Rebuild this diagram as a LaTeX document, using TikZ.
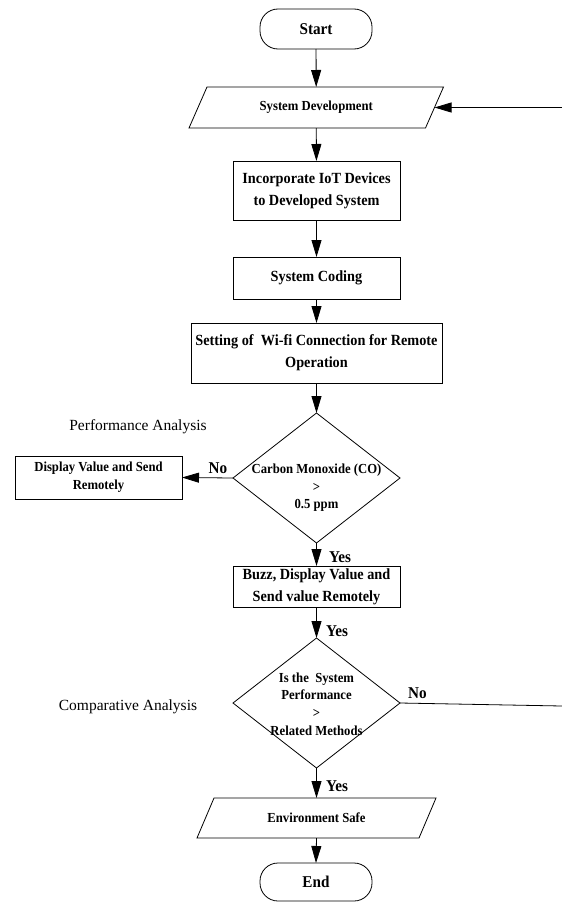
\documentclass[tikz,border=0pt]{standalone}
\usepackage{fontspec}
\setmainfont{Liberation Serif}
\newfontfamily\condfont{Liberation Serif}[FakeStretch=0.92]
\usetikzlibrary{arrows.meta,shapes.geometric,calc}
\newcommand\mainfnt{\condfont\bfseries\fontsize{15.5}{22}\selectfont}
\newcommand\smallfnt{\condfont\bfseries\fontsize{13.8}{17.5}\selectfont}
\newcommand\termfnt{\condfont\bfseries\fontsize{16.5}{20}\selectfont}
\newcommand\lblfnt{\condfont\bfseries\fontsize{16.5}{20}\selectfont}
\newcommand\sidefnt{\fontsize{15.5}{19}\selectfont}
\begin{document}
\begin{tikzpicture}[x=1pt,y=-1pt,
  every node/.style={inner sep=0pt, outer sep=0pt},
  flow/.style={draw=black, line width=0.8pt},
  term/.style={flow, rectangle, rounded corners=18pt, minimum width=112pt, minimum height=40pt, font=\termfnt},
  boxnode/.style={flow, rectangle, align=center, font=\mainfnt},
  smallbox/.style={flow, rectangle, align=center, font=\smallfnt},
  ionode/.style={rectangle, align=center, font=\smallfnt},
  dia/.style={flow, diamond, minimum width=167pt, minimum height=130pt},
  dtext/.style={align=center, font=\smallfnt},
  lbl/.style={font=\lblfnt},
  side/.style={font=\sidefnt},
  arr/.style={flow, -{Triangle[length=17pt,width=10pt]}}
]
\useasboundingbox (0,0) rectangle (562,902);

% nodes
\node[term] (start) at (316,29) {Start};
\node[ionode, minimum width=236.5pt, minimum height=41pt] (sd) at (316.25,107.5) {System Development};
\draw[flow] ($(sd.north west)+(9,0)$) -- ($(sd.north east)+(9,0)$) -- ($(sd.south east)+(-9,0)$) -- ($(sd.south west)+(-9,0)$) -- cycle;
\node[boxnode, minimum width=167pt, minimum height=59pt] (inc) at (316.5,190.5) {Incorporate IoT Devices\\to Developed System};
\node[boxnode, minimum width=167pt, minimum height=42pt] (cod) at (316.5,278) {System Coding};
\node[boxnode, minimum width=251pt, minimum height=60pt] (wifi) at (316.5,353) {Setting of~ Wi-fi Connection for Remote\\Operation};
\node[dia] (d1) at (316.5,478) {};
\node[dtext] (d1t) at (316.5,488) {Carbon Monoxide (CO)\\>\\0.5 ppm};
\node[smallbox, minimum width=167pt, minimum height=43pt, font=\condfont\bfseries\fontsize{13.8}{18}\selectfont] (disp) at (98.5,477.5) {Display Value and Send\\Remotely};
\node[boxnode, minimum width=167pt, minimum height=41pt] (buzz) at (316.5,586.5) {Buzz, Display Value and\\Send value Remotely};
\node[dia] (d2) at (316.5,703) {};
\node[dtext, font=\condfont\bfseries\fontsize{13.8}{17.8}\selectfont] (d2t) at (316.5,704) {Is the~ System\\Performance\\>\\Related Methods};
\node[ionode, minimum width=222pt, minimum height=40pt] (env) at (316.5,818) {Environment Safe};
\draw[flow] ($(env.north west)+(8.5,0)$) -- ($(env.north east)+(8.5,0)$) -- ($(env.south east)+(-8.5,0)$) -- ($(env.south west)+(-8.5,0)$) -- cycle;
\node[term, minimum height=38pt] (end) at (316,882) {End};

\node[side] (pa) at (138,427) {Performance Analysis};
\node[side] (ca) at (128,707) {Comparative Analysis};

\coordinate (loopin) at (562,107.5);
\coordinate (loopout) at (562,706);

% connectors
\draw[arr] (start) -- (sd);
\draw[arr] (loopin) -- (sd.east);
\draw[arr] (sd) -- (inc);
\draw[arr] (inc) -- (cod);
\draw[arr] (cod) -- (wifi);
\draw[arr] (wifi) -- (d1.north);
\draw[arr] (d1.west) -- (disp.east);
\draw[arr] (d1.south) -- (buzz.north);
\draw[arr] (buzz.south) -- (d2.north);
\draw[flow] (d2.east) -- (loopout);
\draw[arr] (d2.south) -- (env.north);
\draw[arr] (env.south) -- (end.north);

% labels
\node[lbl] (no1) at (218,468) {No};
\node[lbl] (yes1) at (340,557) {Yes};
\node[lbl] (yes2) at (337,631) {Yes};
\node[lbl] (no2) at (417.5,693) {No};
\node[lbl] (yes3) at (337,786) {Yes};
\end{tikzpicture}
\end{document}
